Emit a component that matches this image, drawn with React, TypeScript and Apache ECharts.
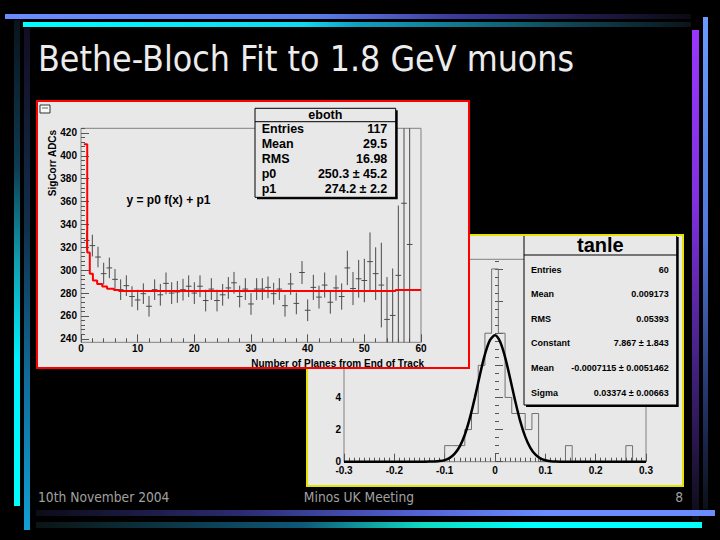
import React, { useEffect, useRef } from 'react';
import * as echarts from 'echarts';

// ---------- "eboth" plot data ----------
const planeX = [
  1, 2, 3, 4, 5, 6, 7, 8, 9, 10, 11, 12, 13, 14, 15, 16, 17, 18, 19, 20,
  21, 22, 23, 24, 25, 26, 27, 28, 29, 30, 31, 32, 33, 34, 35, 36, 37, 38, 39, 40,
  41, 42, 43, 44, 45, 46, 47, 48, 49, 50, 51, 52, 53, 54, 55, 56, 57, 58,
];
const adcValues = [
  326, 321.5, 311.5, 297, 302, 292, 283, 286.5, 277, 274, 279.5, 268.5, 283, 278.5, 288.5, 280, 281, 283, 286, 280,
  286, 273.5, 283.5, 273.5, 278.5, 284.5, 289, 277, 283.5, 270.5, 283.5, 283.5, 285, 279.5, 283.5, 269, 288, 271, 298, 265,
  285, 276.5, 287, 272, 284.5, 277, 302, 284, 292.5, 291, 307.5, 297, 287, 257, 260.5, 295.5, 358.5, 322.5,
];
const adcErrors = [
  8.5, 9.5, 9, 9.5, 9, 9, 9, 9, 9, 9, 9, 9, 9, 9.5, 9.5, 9.5, 9.5, 9.5, 9.5, 9.5,
  9.5, 9.5, 9.5, 9.5, 9.5, 9.5, 9.5, 9.5, 9.5, 9.5, 9.5, 9.5, 9.5, 9.5, 9.5, 9.5, 9.5, 9.5, 10, 9.5,
  11, 10, 11, 10, 11, 11.5, 15, 14.5, 16.5, 19, 25.5, 23, 37, 37, 41, 61, 150, 150,
];
// fitted function f (drawn as steps)
const fitStepX = [0.5, 1.1, 1.55, 2.1, 2.85, 3.75, 4.6, 5.8, 6.7, 55.5, 60];
const fitStepY = [410, 315.5, 297, 291, 288, 285.8, 283.7, 282.6, 281.9, 282.7, 282.7];

const adcYTicks = [240, 260, 280, 300, 320, 340, 360, 380, 400, 420];
const planeXTicks = [0, 10, 20, 30, 40, 50, 60];
const ebothStats = [
  ['Entries', '117'],
  ['Mean', '29.5'],
  ['RMS', '16.98'],
  ['p0', '250.3 \u00b1 45.2'],
  ['p1', '274.2 \u00b1 2.2'],
];

// ---------- "tanle" plot data ----------
const tanleMin = -0.3;
const tanleMax = 0.3;
const tanleBinCounts = [
  0, 0, 0, 0, 0, 0, 0, 0, 0, 0, 0, 0, 0, 0, 0,
  1, 1, 1, 2, 3, 6, 8, 12, 8, 4, 3, 3, 2, 3, 0,
  0, 0, 0, 1, 0, 0, 0, 0, 0, 0, 0, 0, 1, 0, 0,
];
const gaussX = [
  -0.3, -0.16, -0.14, -0.13, -0.12, -0.11, -0.1, -0.09, -0.08, -0.07, -0.06, -0.05, -0.04, -0.03, -0.02, -0.01,
  0, 0.01, 0.02, 0.03, 0.04, 0.05, 0.06, 0.07, 0.08, 0.09, 0.1, 0.11, 0.12, 0.14, 0.3,
];
const gaussY = [
  0, 0, 0.002, 0.005, 0.015, 0.04, 0.1, 0.24, 0.5, 0.95, 1.68, 2.71, 3.99, 5.4, 6.68, 7.57,
  7.87, 7.48, 6.51, 5.2, 3.8, 2.54, 1.56, 0.88, 0.45, 0.21, 0.09, 0.035, 0.013, 0.001, 0,
];
const tanleXTicks = [-0.3, -0.2, -0.1, 0, 0.1, 0.2, 0.3];
const tanleYTicks = [0, 2, 4, 6, 8, 10, 12];
const tanleYLabels = [0, 2, 4]; // the others lie under the front canvas
const tanleStats = [
  ['Entries', '60'],
  ['Mean', '0.009173'],
  ['RMS', '0.05393'],
  ['Constant', '7.867 \u00b1 1.843'],
  ['Mean', '-0.0007115 \u00b1 0.0051462'],
  ['Sigma', '0.03374 \u00b1 0.00663'],
];

// ---------- slide texts ----------
const slideTitle = 'Bethe-Bloch Fit to 1.8 GeV muons';
const footerDate = '10th November 2004';
const footerMeeting = 'Minos UK Meeting';
const footerPage = '8';

const PANEL_BG = '#e8e8e8';
const ROOT_FONT = 'Liberation Sans';
const SLIDE_FONT = 'DejaVu Sans';

function minorTicks(from: number, to: number, step: number, majorStep: number) {
  const out: number[] = [];
  const n = Math.round((to - from) / step);
  for (let i = 0; i <= n; i++) {
    const v = +(from + i * step).toFixed(6);
    const r = v / majorStep;
    if (Math.abs(r - Math.round(r)) > 1e-6) out.push(v);
  }
  return out;
}

function lg(x0: number, y0: number, x1: number, y1: number, stops: [number, string][]) {
  return new echarts.graphic.LinearGradient(
    x0, y0, x1, y1,
    stops.map(([offset, color]) => ({ offset, color }))
  );
}

function statsBox(
  x: number, y: number, w: number, h: number, sep: number,
  title: string, titleFont: string, titleY: number,
  rows: string[][], rowY: number[], rowFont: string, padL: number, padR: number
) {
  const children: any[] = [
    { type: 'rect', shape: { x: x + 2, y: y + 2, width: w, height: h }, style: { fill: '#000' } },
    { type: 'rect', shape: { x, y, width: w, height: h }, style: { fill: PANEL_BG, stroke: '#000', lineWidth: 1 } },
    { type: 'line', shape: { x1: x, y1: y + sep, x2: x + w, y2: y + sep }, style: { stroke: '#000', lineWidth: 1 } },
    {
      type: 'text', x: x + w / 2, y: titleY,
      style: { text: title, font: titleFont, fill: '#000', align: 'center', verticalAlign: 'middle' },
    },
  ];
  rows.forEach((r, i) => {
    children.push({
      type: 'text', x: x + padL, y: rowY[i],
      style: { text: r[0], font: rowFont, fill: '#000', align: 'left', verticalAlign: 'middle' },
    });
    children.push({
      type: 'text', x: x + w - padR, y: rowY[i],
      style: { text: r[1], font: rowFont, fill: '#000', align: 'right', verticalAlign: 'middle' },
    });
  });
  return { type: 'group', z: 100, children };
}

function axisPair(
  kind: 'x' | 'y', min: number, max: number,
  ticks: number[], labels: number[], minors: number[], margin: number, lineHeight: number,
  padding: number[] = [0, 0, 0, 0]
) {
  const base = {
    type: 'value', min, max,
    position: kind === 'x' ? 'bottom' : 'left',
    axisLine: { show: false },
    splitLine: { show: false },
  };
  return [
    {
      ...base,
      axisTick: { customValues: ticks, inside: true, length: 8, lineStyle: { color: '#555', width: 1 } },
      axisLabel: {
        customValues: labels, margin, fontFamily: ROOT_FONT, fontWeight: 'bold', fontSize: 10,
        lineHeight, padding, color: '#000',
      },
    },
    {
      ...base,
      axisTick: { customValues: minors, inside: true, length: 4, lineStyle: { color: '#555', width: 1 } },
      axisLabel: { show: false },
    },
  ];
}

function backgroundOption() {
  const footerFont = `14px "${SLIDE_FONT}"`;
  return {
    animation: false,
    backgroundColor: '#000',
    graphic: [
      { type: 'rect', shape: { x: 5, y: 14, width: 686, height: 5 },
        style: { fill: lg(0, 0, 1, 0, [[0, '#6a8cff'], [0.45, '#5a7ee8'], [0.55, '#5060c8'], [0.65, '#3c3c9c'], [0.85, '#201a48'], [1, '#0a0a12']]) } },
      { type: 'rect', shape: { x: 23, y: 22, width: 668, height: 5 },
        style: { fill: lg(0, 0, 1, 0, [[0, '#00ffff'], [0.42, '#10d8f0'], [0.5, '#10a0c0'], [0.65, '#107890'], [0.85, '#0e3c4c'], [1, '#0a141a']]) } },
      { type: 'rect', shape: { x: 14, y: 20, width: 6, height: 486 },
        style: { fill: lg(0, 0, 0, 1, [[0, '#08141c'], [0.3, '#0e3a50'], [0.5, '#10a0b0'], [0.7, '#00f0ff'], [1, '#00ffff']]) } },
      { type: 'rect', shape: { x: 24, y: 28, width: 6, height: 502 },
        style: { fill: lg(0, 0, 0, 1, [[0, '#140c24'], [0.4, '#10304c'], [0.7, '#106c9c'], [1, '#10a0d4']]) } },
      { type: 'rect', shape: { x: 692, y: 30, width: 7, height: 490 },
        style: { fill: lg(0, 0, 0, 1, [[0, '#9a36ff'], [0.35, '#8030e0'], [0.7, '#40207c'], [1, '#0c0c14']]) } },
      { type: 'rect', shape: { x: 703, y: 17, width: 5, height: 492 },
        style: { fill: lg(0, 0, 0, 1, [[0, '#6a9cff'], [0.45, '#5078d8'], [0.8, '#203060'], [1, '#0c1018']]) } },
      { type: 'rect', shape: { x: 36, y: 510, width: 679, height: 6 },
        style: { fill: lg(0, 0, 1, 0, [[0, '#0c0c18'], [0.3, '#2a2a70'], [0.55, '#5060d0'], [0.75, '#6a8cff'], [1, '#6a8cff']]) } },
      { type: 'rect', shape: { x: 36, y: 522, width: 666, height: 6 },
        style: { fill: lg(0, 0, 1, 0, [[0, '#0a1414'], [0.4, '#0e5878'], [0.58, '#10d8c0'], [0.75, '#00ffff'], [1, '#00ffff']]) } },
      { type: 'text', x: 38, y: 58, scaleX: 0.885,
        style: { text: slideTitle, font: `36px "${SLIDE_FONT}"`, fill: '#ececec', align: 'left', verticalAlign: 'middle' } },
      { type: 'text', x: 38, y: 497, scaleX: 0.88,
        style: { text: footerDate, font: footerFont, fill: '#a0a0a0', align: 'left', verticalAlign: 'middle' } },
      { type: 'text', x: 359, y: 497, scaleX: 0.88,
        style: { text: footerMeeting, font: footerFont, fill: '#a0a0a0', align: 'center', verticalAlign: 'middle' } },
      { type: 'text', x: 683, y: 497, scaleX: 0.88,
        style: { text: footerPage, font: footerFont, fill: '#a0a0a0', align: 'right', verticalAlign: 'middle' } },
    ],
  };
}

function tanleOption() {
  const nBins = tanleBinCounts.length;
  const w = (tanleMax - tanleMin) / nBins;
  const hist: number[][] = tanleBinCounts.map((c, k) => [tanleMin + k * w, c]);
  hist.push([tanleMax, tanleBinCounts[nBins - 1]]);
  const gauss = gaussX.map((x, i) => [x, gaussY[i]]);
  const xAxes = axisPair('x', tanleMin, tanleMax, tanleXTicks, tanleXTicks, minorTicks(-0.3, 0.3, 0.01, 0.1), 3.5, 10);
  const yAxes = axisPair('y', 0, 12.6, tanleYTicks, tanleYLabels, minorTicks(0, 12.5, 0.5, 2), 3, 7, [0, 0, 3, 0]);
  return {
    animation: false,
    backgroundColor: PANEL_BG,
    grid: { left: 38, top: 25.3, width: 302, height: 202.4, show: true, borderColor: '#808080', borderWidth: 1, backgroundColor: 'transparent' },
    xAxis: xAxes,
    yAxis: yAxes,
    series: [
      { type: 'line', data: hist, step: 'end', showSymbol: false, symbol: 'none', lineStyle: { color: '#707070', width: 1 }, z: 3 },
      { type: 'line', data: gauss, smooth: 0.3, showSymbol: false, symbol: 'none', lineStyle: { color: '#000', width: 2.5 }, z: 4 },
    ],
    graphic: [
      { type: 'rect', z: 90, shape: { x: 1, y: 1, width: 376, height: 251 }, style: { fill: 'none', stroke: '#e4e400', lineWidth: 2 } },
      statsBox(218, 1, 152.7, 170, 20, 'tanle', `bold 20px "${ROOT_FONT}"`, 11,
        tanleStats, [36, 60.3, 85.3, 109.3, 133.7, 158.7], `bold 9px "${ROOT_FONT}"`, 7, 8),
    ],
  };
}

function ebothOption() {
  const pts = planeX.map((x, i) => [x, adcValues[i], adcErrors[i]]);
  const fit = fitStepX.map((x, i) => [x, fitStepY[i]]);
  const xAxes = axisPair('x', 0, 60, planeXTicks, planeXTicks, minorTicks(0, 60, 2, 10), 2.5, 8);
  const yAxes = axisPair('y', 237, 424, adcYTicks, adcYTicks, minorTicks(240, 424, 4, 20), 4, 8);
  return {
    animation: false,
    backgroundColor: PANEL_BG,
    grid: { left: 45, top: 28.3, width: 340, height: 214, show: true, borderColor: '#808080', borderWidth: 1, backgroundColor: 'transparent' },
    xAxis: xAxes,
    yAxis: yAxes,
    series: [
      {
        type: 'custom',
        xAxisIndex: 0,
        yAxisIndex: 0,
        data: pts,
        encode: { x: 0, y: 1 },
        z: 3,
        renderItem: (params: any, api: any) => {
          const x = api.value(0);
          const y = api.value(1);
          const e = api.value(2);
          const cs = params.coordSys;
          const clampY = (v: number) => Math.max(cs.y, Math.min(cs.y + cs.height, v));
          const top = api.coord([x, y + e]);
          const bot = api.coord([x, y - e]);
          const l = api.coord([x - 0.5, y]);
          const r = api.coord([x + 0.5, y]);
          const st = { stroke: '#4a4a4a', lineWidth: 1 };
          return {
            type: 'group',
            children: [
              { type: 'line', shape: { x1: top[0], y1: clampY(top[1]), x2: bot[0], y2: clampY(bot[1]) }, style: st },
              { type: 'line', shape: { x1: l[0], y1: l[1], x2: r[0], y2: r[1] }, style: st },
            ],
          };
        },
      },
      { type: 'line', data: fit, step: 'end', showSymbol: false, symbol: 'none', lineStyle: { color: '#ff0000', width: 2 }, z: 4 },
    ],
    graphic: [
      { type: 'rect', z: 90, shape: { x: 1, y: 1, width: 432, height: 267 }, style: { fill: 'none', stroke: '#ff0000', lineWidth: 2 } },
      { type: 'rect', z: 90, shape: { x: 4, y: 5, width: 10, height: 8 }, style: { fill: '#f8f8f8', stroke: '#333', lineWidth: 1 } },
      { type: 'line', z: 91, shape: { x1: 6, y1: 8, x2: 12, y2: 8 }, style: { stroke: '#666', lineWidth: 1 } },
      {
        type: 'text', z: 50, x: 16, y: 63, rotation: Math.PI / 2,
        style: { text: 'SigCorr ADCs', font: `bold 10px "${ROOT_FONT}"`, fill: '#000', align: 'center', verticalAlign: 'middle' },
      },
      {
        type: 'text', z: 50, x: 388, y: 263.3,
        style: { text: 'Number of Planes from End of Track', font: `bold 10px "${ROOT_FONT}"`, fill: '#000', align: 'right', verticalAlign: 'middle' },
      },
      {
        type: 'text', z: 50, x: 132.5, y: 100,
        style: { text: 'y = p0 f(x) + p1', font: `bold 12px "${ROOT_FONT}"`, fill: '#000', align: 'center', verticalAlign: 'middle' },
      },
      statsBox(219, 8.3, 140.7, 89, 13.4, 'eboth', `bold 12.5px "${ROOT_FONT}"`, 14.8,
        ebothStats, [29.3, 44, 59.3, 74, 89], `bold 12.5px "${ROOT_FONT}"`, 6.7, 8.4),
    ],
  };
}

function useChart(ref: React.RefObject<HTMLDivElement>, makeOption: () => any) {
  useEffect(() => {
    if (!ref.current) return;
    const chart = echarts.init(ref.current, undefined, { renderer: 'svg' });
    chart.setOption(makeOption());
    return () => chart.dispose();
  }, []);
}

export default function App() {
  const bgRef = useRef<HTMLDivElement>(null);
  const tanleRef = useRef<HTMLDivElement>(null);
  const ebothRef = useRef<HTMLDivElement>(null);
  useChart(bgRef, backgroundOption);
  useChart(tanleRef, tanleOption);
  useChart(ebothRef, ebothOption);
  return (
    <div style={{ position: 'fixed', left: 0, top: 0, width: 720, height: 540, background: '#000', overflow: 'hidden' }}>
      <div ref={bgRef} style={{ position: 'absolute', left: 0, top: 0, width: 720, height: 540 }} />
      <div ref={tanleRef} style={{ position: 'absolute', left: 306, top: 234, width: 378, height: 253 }} />
      <div ref={ebothRef} style={{ position: 'absolute', left: 36, top: 100, width: 434, height: 269 }} />
    </div>
  );
}
